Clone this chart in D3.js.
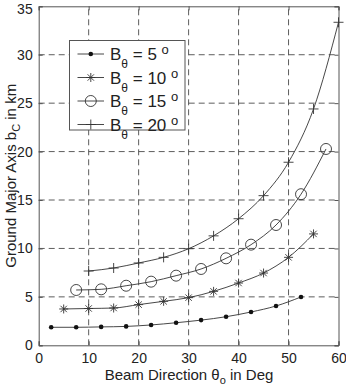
<!DOCTYPE html>
<html lang="en">
<head>
<meta charset="UTF-8">
<title>Ground Major Axis</title>
<script src="https://d3js.org/d3.v7.min.js"></script>
<style>
  body { margin: 0; background: #fff; }
  svg text { font-family: "Liberation Sans", Arial, sans-serif; fill: #222; }
</style>
</head>
<body>
<div id="chart"></div>
<script>
// beam directions (deg) for each curve
const x5  = [2.5, 7.5, 12.5, 17.5, 22.5, 27.5, 32.5, 37.5, 42.5, 47.5, 52.5];
const x10 = [5, 10, 15, 20, 25, 30, 35, 40, 45, 50, 55];
const x15 = [7.5, 12.5, 17.5, 22.5, 27.5, 32.5, 37.5, 42.5, 47.5, 52.5, 57.5];
const x20 = [10, 15, 20, 25, 30, 35, 40, 45, 50, 55, 60];

// ground major axis b_C (km)
const y5  = [1.86, 1.86, 1.9, 1.95, 2.1, 2.33, 2.6, 2.95, 3.44, 4.06, 4.99];
const y10 = [3.75, 3.8, 3.85, 4.2, 4.54, 4.92, 5.57, 6.43, 7.46, 9.08, 11.5];
const y15 = [5.71, 5.78, 6.15, 6.57, 7.19, 7.88, 8.98, 10.39, 12.42, 15.6, 20.27];
const y20 = [7.67, 7.98, 8.5, 9.08, 9.97, 11.3, 13.07, 15.45, 18.9, 24.4, 33.35];

const legendLabels = ["5", "10", "15", "20"];
const xTicks = [0, 10, 20, 30, 40, 50, 60];
const yTicks = [0, 5, 10, 15, 20, 25, 30, 35];

const series = [
  { xs: x5,  ys: y5,  marker: "dot" },
  { xs: x10, ys: y10, marker: "star" },
  { xs: x15, ys: y15, marker: "circle" },
  { xs: x20, ys: y20, marker: "plus" }
];

const w = 346, h = 386;
const m = { left: 38.7, right: 7.5, top: 6.3, bottom: 40.7 };

const svg = d3.select("#chart").append("svg")
  .attr("width", w).attr("height", h);

const x = d3.scaleLinear().domain([0, 60]).range([m.left, w - m.right]);
const y = d3.scaleLinear().domain([0, 35]).range([h - m.bottom, m.top]);

const ink = "#333";

// dashed grid
svg.append("g").selectAll("line")
  .data(xTicks.slice(1, -1)).join("line")
  .attr("x1", d => x(d)).attr("x2", d => x(d))
  .attr("y1", y(0)).attr("y2", y(35))
  .attr("stroke", ink).attr("stroke-width", 0.8)
  .attr("stroke-dasharray", "6,4");
svg.append("g").selectAll("line")
  .data(yTicks.slice(1, -1)).join("line")
  .attr("y1", d => y(d)).attr("y2", d => y(d))
  .attr("x1", x(0)).attr("x2", x(60))
  .attr("stroke", ink).attr("stroke-width", 0.8)
  .attr("stroke-dasharray", "6,4");

// axes with inward ticks
const xAxis = d3.axisBottom(x).tickValues(xTicks).tickSize(-4).tickPadding(8);
const yAxis = d3.axisLeft(y).tickValues(yTicks).tickSize(-4).tickPadding(6);

svg.append("g").attr("transform", "translate(0," + y(0) + ")").call(xAxis);
const gy = svg.append("g").attr("transform", "translate(" + x(0) + ",0)").call(yAxis);
svg.append("g").attr("transform", "translate(0," + y(35) + ")")
  .call(d3.axisTop(x).tickValues(xTicks).tickSize(-4).tickFormat(""));
svg.append("g").attr("transform", "translate(" + x(60) + ",0)")
  .call(d3.axisRight(y).tickValues(yTicks).tickSize(-4).tickFormat(""));

svg.selectAll(".domain").attr("stroke", "#555");
svg.selectAll(".tick line").attr("stroke", "#555");
svg.selectAll(".tick text").style("font-size", "14px").attr("fill", "#222");
// keep the top label inside the page
gy.selectAll(".tick text").filter(d => d === 35).attr("dy", "0.5em");

// curves
const line = d3.line().curve(d3.curveMonotoneX);

function drawMarker(g, type, px, py) {
  if (type === "dot") {
    g.append("circle").attr("cx", px).attr("cy", py).attr("r", 2.3).attr("fill", "#111");
  } else if (type === "circle") {
    g.append("circle").attr("cx", px).attr("cy", py).attr("r", 5.5)
      .attr("fill", "none").attr("stroke", ink).attr("stroke-width", 0.9);
  } else if (type === "plus") {
    g.append("path").attr("d", `M${px - 5},${py}H${px + 5}M${px},${py - 5}V${py + 5}`)
      .attr("stroke", ink).attr("stroke-width", 0.9);
  } else {
    const r = 4.5, s = r * Math.SQRT1_2;
    g.append("path")
      .attr("d", `M${px - r},${py}H${px + r}M${px},${py - r}V${py + r}M${px - s},${py - s}L${px + s},${py + s}M${px - s},${py + s}L${px + s},${py - s}`)
      .attr("stroke", ink).attr("stroke-width", 0.9);
  }
}

series.forEach(s => {
  const pts = s.xs.map((d, i) => [x(d), y(s.ys[i])]);
  svg.append("path").attr("d", line(pts))
    .attr("fill", "none").attr("stroke", ink).attr("stroke-width", 0.9);
  const g = svg.append("g");
  pts.forEach(p => drawMarker(g, s.marker, p[0], p[1]));
});

// legend
const lg = svg.append("g");
lg.append("rect").attr("x", 69.5).attr("y", 40.5).attr("width", 115.5).attr("height", 89.5)
  .attr("fill", "#fff").attr("stroke", "#555").attr("stroke-width", 1);
series.forEach((s, i) => {
  const ly = 54 + i * 23.5;
  lg.append("line").attr("x1", 77.5).attr("x2", 104).attr("y1", ly).attr("y2", ly)
    .attr("stroke", ink).attr("stroke-width", 0.9);
  drawMarker(lg, s.marker, 90.8, ly);
  const t = lg.append("text").attr("x", 110).attr("y", ly + 6).style("font-size", "17px");
  t.append("tspan").text("B");
  t.append("tspan").attr("dy", 8).style("font-size", "12px").text("θ");
  t.append("tspan").attr("dy", -8).text(" = " + legendLabels[i] + " ");
  t.append("tspan").attr("dy", -6).style("font-size", "13px").text("o");
});

// axis titles
const xt = svg.append("text").attr("x", 189).attr("y", 380)
  .attr("text-anchor", "middle").style("font-size", "15px");
xt.append("tspan").text("Beam Direction θ");
xt.append("tspan").attr("dy", 4).style("font-size", "11px").text("o");
xt.append("tspan").attr("dy", -4).text(" in Deg");

const yt = svg.append("text")
  .attr("transform", "translate(16," + y(17.5) + ") rotate(-90)")
  .attr("text-anchor", "middle").style("font-size", "15px");
yt.append("tspan").text("Ground Major Axis b");
yt.append("tspan").attr("dy", 4).style("font-size", "11px").text("C");
yt.append("tspan").attr("dy", -4).text(" in km");
</script>
</body>
</html>
